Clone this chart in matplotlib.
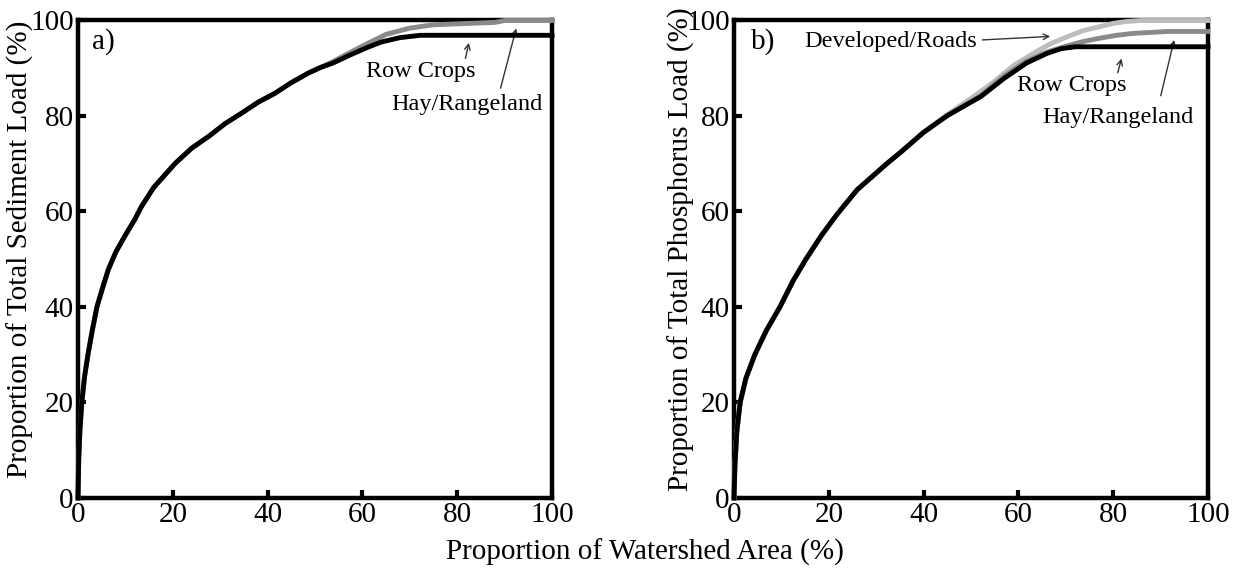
import matplotlib.pyplot as plt
import numpy as np

plt.rcParams['font.family'] = ['Liberation Serif', 'DejaVu Serif']

# ---- data (cumulative % load vs % watershed area) ----
# panel a) sediment
sed_row_x = [0, 0.15, 0.4, 0.8, 1.4, 2.1, 3, 4, 5.2, 6.4, 8, 10, 12, 13.4,
             16, 20.5, 24, 27.5, 31, 34.5, 38, 41.6, 45, 48.6, 51, 53.8, 57,
             60.9, 64, 67.9, 72.2, 100]
sed_row_y = [0, 8, 14, 20, 25.5, 30, 35, 40, 44, 47.8, 51.5, 55, 58.3, 61,
             65, 70, 73.2, 75.6, 78.3, 80.5, 82.8, 84.7, 86.9, 88.9, 90, 91,
             92.5, 94.2, 95.4, 96.3, 96.8, 96.8]
sed_hay_x = [0, 0.15, 0.4, 0.8, 1.4, 2.1, 3, 4, 5.2, 6.4, 8, 10, 12, 13.4,
             16, 20.5, 24, 27.5, 31, 34.5, 38, 41.6, 45, 48.6, 51, 53.8, 57,
             60.9, 65, 70, 75, 80, 88, 90, 100]
sed_hay_y = [0, 8, 14, 20, 25.5, 30, 35, 40, 44, 47.8, 51.5, 55, 58.3, 61,
             65, 70, 73.2, 75.6, 78.3, 80.5, 82.8, 84.7, 86.9, 88.9, 90, 91.3,
             93, 95, 97, 98.3, 99, 99.2, 99.5, 99.9, 99.9]

# panel b) phosphorus
p_row_x = [0, 0.2, 0.6, 1.3, 2.5, 4.4, 6.8, 9.7, 12.5, 15.2, 18.5, 21.7, 26,
           32.3, 35, 40, 45, 52.1, 57, 61.7, 66, 69, 72, 100]
p_row_y = [0, 7, 14, 20, 25, 30, 35, 40, 45.5, 50, 55, 59.3, 64.5,
           70, 72.2, 76.5, 80, 84, 87.8, 91, 93, 94, 94.4, 94.4]
p_hay_x = [0, 0.2, 0.6, 1.3, 2.5, 4.4, 6.8, 9.7, 12.5, 15.2, 18.5, 21.7, 26,
           32.3, 35, 40, 45, 52.1, 57, 61.7, 66, 70.3, 73.7, 77.2, 80.7, 84.2,
           91.4, 100]
p_hay_y = [0, 7, 14, 20, 25, 30, 35, 40, 45.5, 50, 55, 59.3, 64.5,
           70, 72.2, 76.5, 80, 84.2, 88.3, 91.4, 93.3, 94.6, 95.5, 96.2, 96.8,
           97.2, 97.6, 97.6]
p_dev_x = [0, 0.2, 0.6, 1.3, 2.5, 4.4, 6.8, 9.7, 12.5, 15.2, 18.5, 21.7, 26,
           32.3, 35, 40, 45, 50, 55, 59, 63.1, 66.7, 70.3, 73.7, 77.2, 80,
           82.9, 86, 100]
p_dev_y = [0, 7, 14, 20, 25, 30, 35, 40, 45.5, 50, 55, 59.3, 64.5,
           70, 72.2, 76.5, 80.2, 83.6, 87.2, 90.5, 93, 95, 96.5, 97.8, 98.6,
           99.3, 99.7, 99.9, 99.9]

ticks = [0, 20, 40, 60, 80, 100]
fs = 21
afs = 17.5

fig = plt.figure(figsize=(12.38, 5.72), dpi=100)
ax1 = fig.add_axes([78/1238, 74/572, 474/1238, 478/572])
ax2 = fig.add_axes([734/1238, 74/572, 474/1238, 478/572])

def style(ax, ylabel, lx):
    ax.set_xlim(0, 100)
    ax.set_ylim(0, 100)
    ax.set_xticks(ticks)
    ax.set_yticks(ticks)
    ax.tick_params(direction='in', length=6, width=3, labelsize=fs, pad=3,
                   top=False, right=False)
    for s in ax.spines.values():
        s.set_linewidth(3.2)
    ax.set_ylabel(ylabel, fontsize=fs)
    ax.yaxis.set_label_coords(lx, 0.52)

arrow = dict(arrowstyle='->', color='#333333', lw=1)

# panel a
ax1.plot(sed_hay_x, sed_hay_y, color='#8a8a8a', lw=3.5, zorder=5, clip_on=False)
ax1.plot(sed_row_x, sed_row_y, color='black', lw=3.5, zorder=6, clip_on=False)
style(ax1, 'Proportion of Total Sediment Load (%)', -0.092)
ax1.text(3, 95.5, 'a)', fontsize=fs, va='center')
ax1.annotate('', xy=(82.6, 95.8), xytext=(81.6, 91.4), arrowprops=arrow)
ax1.text(72.4, 89.3, 'Row Crops', fontsize=afs, ha='center', va='center')
ax1.annotate('', xy=(92.6, 98.8), xytext=(89.0, 85.2), arrowprops=arrow)
ax1.text(82.0, 82.3, 'Hay/Rangeland', fontsize=afs, ha='center', va='center')

# panel b
ax2.plot(p_dev_x, p_dev_y, color='#bdbdbd', lw=3.5, zorder=4, clip_on=False)
ax2.plot(p_hay_x, p_hay_y, color='#8a8a8a', lw=3.5, zorder=5, clip_on=False)
ax2.plot(p_row_x, p_row_y, color='black', lw=3.5, zorder=6, clip_on=False)
style(ax2, 'Proportion of Total Phosphorus Load (%)', -0.083)
ax2.text(3.5, 95.5, 'b)', fontsize=fs, va='center')
ax2.text(33.1, 95.6, 'Developed/Roads', fontsize=afs, ha='center', va='center')
ax2.annotate('', xy=(67.3, 96.6), xytext=(51.8, 95.8), arrowprops=arrow)
ax2.text(71.3, 86.2, 'Row Crops', fontsize=afs, ha='center', va='center')
ax2.annotate('', xy=(81.9, 92.5), xytext=(80.8, 88.4), arrowprops=arrow)
ax2.text(81.0, 79.5, 'Hay/Rangeland', fontsize=afs, ha='center', va='center')
ax2.annotate('', xy=(93.0, 96.4), xytext=(89.9, 83.6), arrowprops=arrow)

fig.text(0.521, 0.01, 'Proportion of Watershed Area (%)', fontsize=fs,
         ha='center', va='bottom')

fig.savefig('out.png', dpi=100)
